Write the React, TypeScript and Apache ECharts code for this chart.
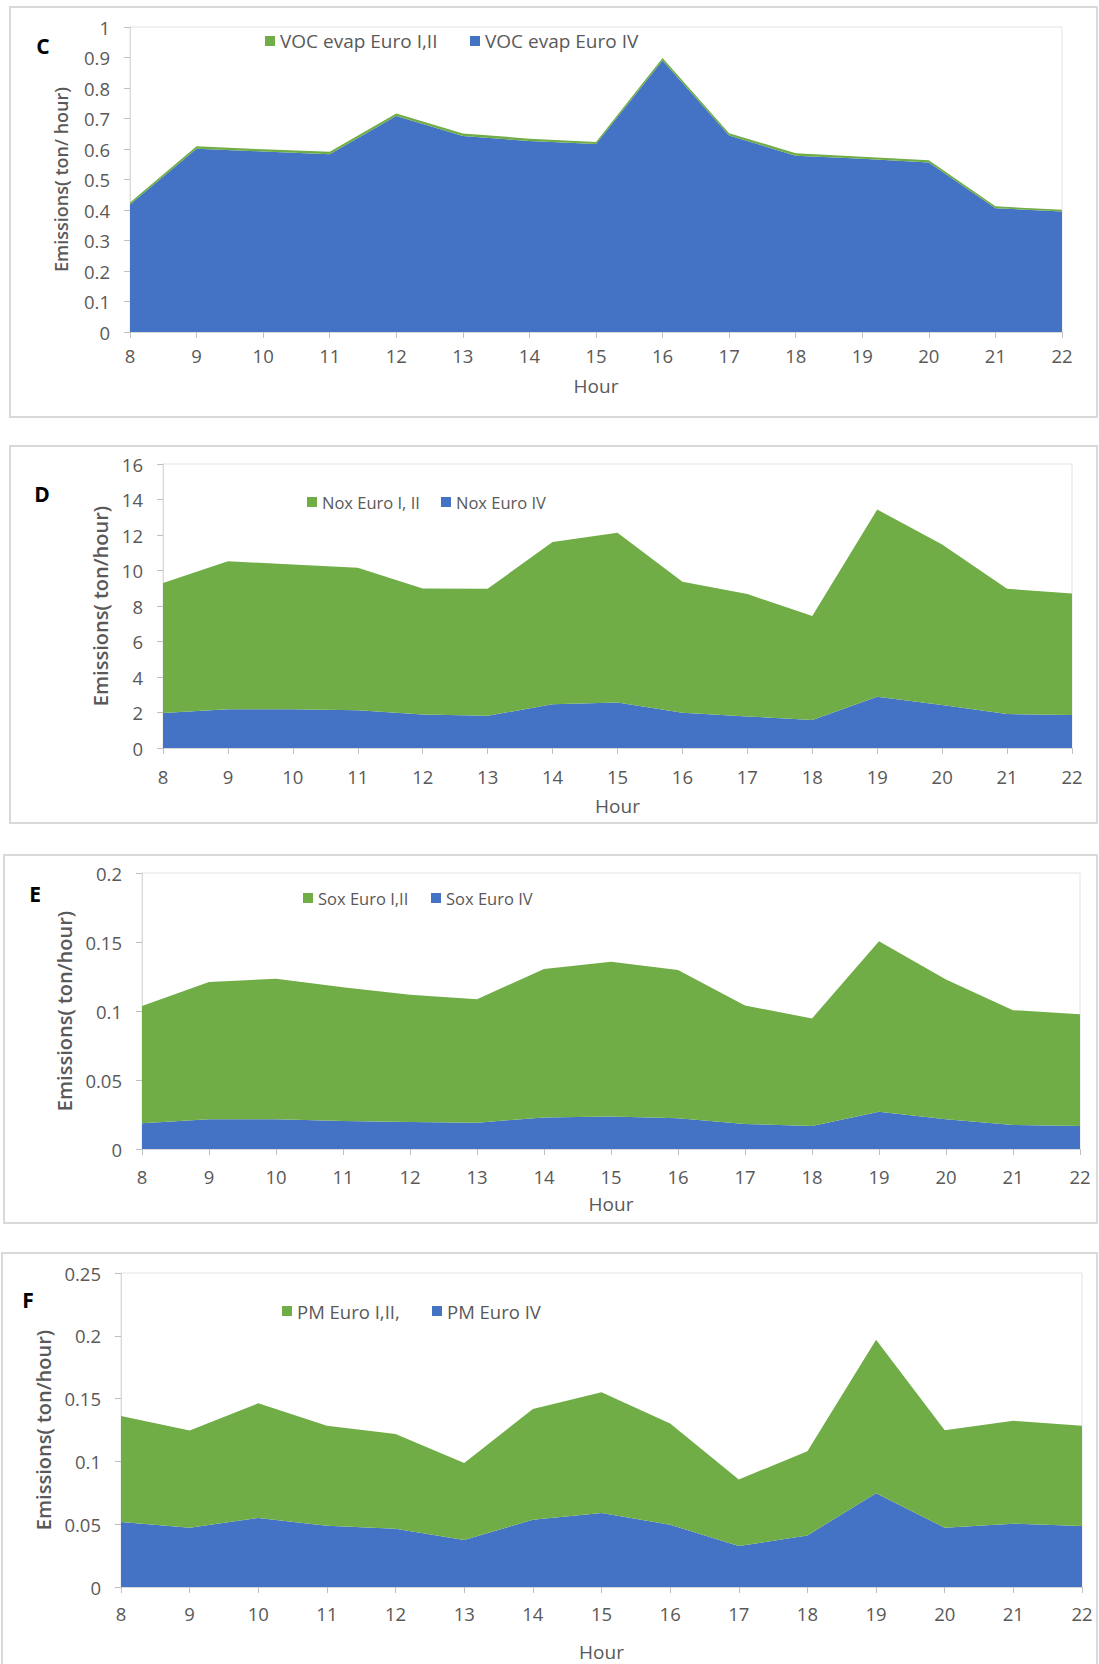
import React, { useEffect, useRef } from "react";
import * as echarts from "echarts";

const hours = ["8", "9", "10", "11", "12", "13", "14", "15", "16", "17", "18", "19", "20", "21", "22"];

// Panel C: VOC evaporative
const vocEuro4 = [0.418, 0.601, 0.592, 0.583, 0.708, 0.643, 0.626, 0.616, 0.890, 0.644, 0.578, 0.568, 0.556, 0.406, 0.395];
const vocEuro12 = [0.007, 0.008, 0.007, 0.008, 0.008, 0.008, 0.008, 0.007, 0.008, 0.008, 0.008, 0.007, 0.007, 0.006, 0.006];

// Panel D: NOx
const noxEuro4 = [1.97, 2.18, 2.18, 2.12, 1.89, 1.82, 2.46, 2.57, 1.99, 1.78, 1.58, 2.89, 2.42, 1.91, 1.86];
const noxEuro12 = [7.32, 8.34, 8.16, 8.03, 7.10, 7.15, 9.15, 9.55, 7.37, 6.89, 5.85, 10.54, 9.04, 7.06, 6.85];

// Panel E: SOx
const soxEuro4 = [0.0186, 0.0215, 0.0215, 0.0203, 0.0195, 0.0191, 0.0229, 0.0236, 0.0222, 0.0181, 0.0166, 0.0270, 0.0215, 0.0174, 0.0166];
const soxEuro12 = [0.0851, 0.0996, 0.1018, 0.0969, 0.0922, 0.0895, 0.1076, 0.1120, 0.1076, 0.0859, 0.0780, 0.1235, 0.1013, 0.0832, 0.0811];

// Panel F: PM
const pmEuro4 = [0.0518, 0.0472, 0.0550, 0.0488, 0.0464, 0.0374, 0.0536, 0.0590, 0.0496, 0.0326, 0.0411, 0.0747, 0.0472, 0.0504, 0.0486];
const pmEuro12 = [0.0843, 0.0774, 0.0912, 0.0795, 0.0755, 0.0613, 0.0881, 0.0960, 0.0806, 0.0530, 0.0670, 0.1222, 0.0777, 0.0819, 0.0797];

const panelLetters = ["C", "D", "E", "F"];
const yTitles = ["Emissions( ton/ hour)", "Emissions( ton/hour)", "Emissions( ton/hour)", "Emissions( ton/hour)"];
const greenNames = ["VOC evap Euro I,II", "Nox Euro I, II", "Sox Euro I,II", "PM Euro I,II,"];
const blueNames = ["VOC evap Euro IV", "Nox Euro IV", "Sox Euro IV", "PM Euro IV"];
const yMax = [1, 16, 0.2, 0.25];
const yStep = [0.1, 2, 0.05, 0.05];

const GREEN = "#70AD47";
const BLUE = "#4472C4";
const TXT = "#595959";
const FONT = "Open Sans";

// layout (pixels)
const layout = [
  { grid: { left: 130, top: 27, width: 932, height: 305 }, box: [10, 7, 1087, 410], letter: [43, 46], yGap: 60, yNameSize: 18, xLabelMargin: 14, hourGap: 44, legY: 41, legG: 265, legB: 470, legSize: 19 },
  { grid: { left: 163, top: 464, width: 909, height: 284 }, box: [10, 446, 1087, 377], letter: [42, 494], yGap: 51, yNameSize: 20, xLabelMargin: 19, hourGap: 48, legY: 502, legG: 307, legB: 441, legSize: 16.5 },
  { grid: { left: 142, top: 873, width: 938, height: 276 }, box: [4, 855, 1093, 368], letter: [35, 894], yGap: 65, yNameSize: 20, xLabelMargin: 18, hourGap: 45, legY: 898, legG: 303, legB: 431, legSize: 16.5 },
  { grid: { left: 121, top: 1273, width: 961, height: 314 }, box: [2, 1253, 1095, 420], letter: [28, 1300], yGap: 64, yNameSize: 20, xLabelMargin: 17, hourGap: 55, legY: 1311, legG: 282, legB: 432, legSize: 18.5 },
];

const blueData = [vocEuro4, noxEuro4, soxEuro4, pmEuro4];
const greenData = [vocEuro12, noxEuro12, soxEuro12, pmEuro12];

export default function App() {
  const ref = useRef<HTMLDivElement>(null);
  useEffect(() => {
    if (!ref.current) return;
    const chart = echarts.init(ref.current, undefined, { renderer: "svg" });

    const grids: any[] = [];
    const xAxes: any[] = [];
    const yAxes: any[] = [];
    const series: any[] = [];
    const legends: any[] = [];
    const graphics: any[] = [];

    layout.forEach((L, i) => {
      grids.push({ ...L.grid, show: true, borderColor: "#e3e3e3", borderWidth: 1, backgroundColor: "transparent" });
      xAxes.push({
        type: "category",
        gridIndex: i,
        data: hours,
        boundaryGap: false,
        name: "Hour",
        nameLocation: "middle",
        nameGap: L.hourGap,
        nameTextStyle: { color: TXT, fontSize: 19, fontFamily: FONT },
        axisLine: { show: true, lineStyle: { color: "#d9d9d9", width: 1 } },
        axisTick: { show: true, inside: false, length: 6, lineStyle: { color: "#bfbfbf" } },
        axisLabel: { color: TXT, fontSize: 18.5, fontFamily: FONT, margin: L.xLabelMargin },
        splitLine: { show: false },
      });
      yAxes.push({
        type: "value",
        gridIndex: i,
        min: 0,
        max: yMax[i],
        interval: yStep[i],
        name: yTitles[i],
        nameLocation: "middle",
        nameRotate: 90,
        nameGap: L.yGap,
        nameTextStyle: { color: TXT, fontSize: L.yNameSize, fontFamily: FONT, fontWeight: 600 },
        axisLine: { show: true, lineStyle: { color: "#d9d9d9", width: 1 } },
        axisTick: { show: true, inside: false, length: 6, lineStyle: { color: "#bfbfbf" } },
        axisLabel: { color: TXT, fontSize: 18.5, fontFamily: FONT, margin: 20 },
        splitLine: { show: false },
      });
      const stack = "s" + i;
      series.push({
        type: "line",
        name: blueNames[i],
        xAxisIndex: i,
        yAxisIndex: i,
        stack,
        data: blueData[i],
        showSymbol: false,
        symbol: "none",
        lineStyle: { width: 0, color: BLUE },
        itemStyle: { color: BLUE },
        areaStyle: { color: BLUE, opacity: 1 },
      });
      series.push({
        type: "line",
        name: greenNames[i],
        xAxisIndex: i,
        yAxisIndex: i,
        stack,
        data: greenData[i],
        showSymbol: false,
        symbol: "none",
        lineStyle: { width: 0, color: GREEN },
        itemStyle: { color: GREEN },
        areaStyle: { color: GREEN, opacity: 1 },
      });
      const lh = 22;
      [
        { name: greenNames[i], x: L.legG },
        { name: blueNames[i], x: L.legB },
      ].forEach((it) => {
        legends.push({
          data: [{ name: it.name, icon: "rect" }],
          left: it.x,
          top: L.legY - lh / 2,
          padding: 0,
          itemWidth: 10,
          itemHeight: 10,
          selectedMode: false,
          textStyle: { color: TXT, fontSize: L.legSize, fontFamily: FONT, lineHeight: lh, padding: [0, 0, 0, 0] },
        });
      });
      graphics.push({
        type: "rect",
        shape: { x: L.box[0], y: L.box[1], width: L.box[2], height: L.box[3] },
        style: { fill: "none", stroke: "#d9d9d9", lineWidth: 2 },
        silent: true,
        z: -1,
      });
      graphics.push({
        type: "text",
        x: L.letter[0],
        y: L.letter[1],
        style: {
          text: panelLetters[i],
          fill: "#000000",
          font: `bold 21px "${FONT}"`,
          textAlign: "center",
          textVerticalAlign: "middle",
        },
        silent: true,
      });
    });

    chart.setOption({
      animation: false,
      backgroundColor: "#ffffff",
      grid: grids,
      xAxis: xAxes,
      yAxis: yAxes,
      legend: legends,
      series,
      graphic: graphics,
    });
    return () => chart.dispose();
  }, []);
  return (
    <div
      ref={ref}
      style={{ position: "absolute", left: 0, top: 0, width: 1099, height: 1664, background: "#fff" }}
    />
  );
}
